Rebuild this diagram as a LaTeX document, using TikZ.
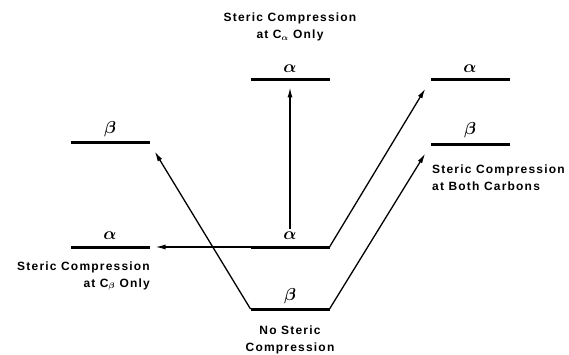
\documentclass[tikz,border=0pt]{standalone}
\usepackage{fontspec}
\usepackage{amsmath,amsbsy}
\newfontfamily\labfont{Liberation Sans}[LetterSpace=10]
\usetikzlibrary{arrows.meta}
\begin{document}
\begin{tikzpicture}[x=1pt,y=-1pt,
  level/.style={fill=black,draw=none,minimum width=79pt,minimum height=3pt,inner sep=0pt,outer sep=0pt},
  sym/.style={inner sep=0pt,font=\LARGE},
  txt/.style={font=\labfont\bfseries\fontsize{12}{17}\selectfont,inner sep=0pt},
  conn/.style={line width=1.3pt,-{Latex[length=10pt,width=5pt]}}]
\useasboundingbox (0,0) rectangle (569,355);
% levels
\node[level] (tc) at (290,80) {};
\node[level] (ra) at (470,80) {};
\node[level] (rb) at (470,145) {};
\node[level] (lb) at (110,143) {};
\node[level] (la) at (110,247) {};
\node[level] (ca) at (290,247) {};
\node[level] (cb) at (290,309) {};
% symbols
\node[sym] (tcs) at (290,69) {$\boldsymbol{\alpha}$};
\node[sym] (ras) at (470,69) {$\boldsymbol{\alpha}$};
\node[sym] (rbs) at (470,130) {$\boldsymbol{\beta}$};
\node[sym] (lbs) at (110,129) {$\boldsymbol{\beta}$};
\node[sym] (las) at (110,236) {$\boldsymbol{\alpha}$};
\node[sym] (cas) at (290,236) {$\boldsymbol{\alpha}$};
\node[sym] (cbs) at (290,296) {$\boldsymbol{\beta}$};
% texts
\node[txt,align=center] (t1) at (290,27) {Steric Compression\\at C$_{\boldsymbol{\alpha}}$ Only};
\node[txt,align=left,anchor=west] (t2) at (432,178) {Steric Compression\\at Both Carbons};
\node[txt,align=right,anchor=east] (t3) at (150,276) {Steric Compression\\at C$_{\boldsymbol{\beta}}$ Only};
\node[txt,align=center] (t4) at (290,340) {No Steric\\Compression};
% arrows
\draw[conn,shorten <=3pt,shorten >=6pt] (cas.north) -- (tc.south);
\draw[conn,shorten >=6pt] (ca.west) -- (la.east);
\draw[conn,shorten >=10pt] (ca.east) -- (ra.west);
\draw[conn,shorten >=10pt] (cb.east) -- (rb.west);
\draw[conn,shorten >=10pt] (cb.west) -- (lb.east);
\end{tikzpicture}
\end{document}
